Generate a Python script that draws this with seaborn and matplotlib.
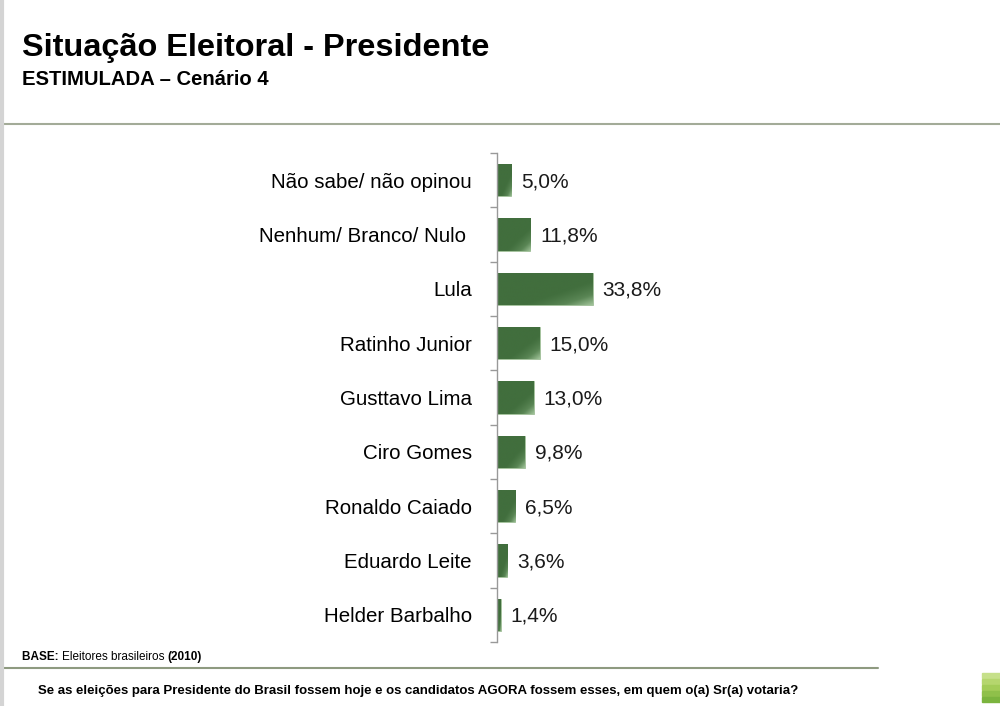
import numpy as np
import matplotlib
matplotlib.use("Agg")
import matplotlib.pyplot as plt
import matplotlib.colors as mcolors
import seaborn as sns
import pandas as pd

candidatos = ["Não sabe/ não opinou", "Nenhum/ Branco/ Nulo ", "Lula", "Ratinho Junior",
              "Gusttavo Lima", "Ciro Gomes", "Ronaldo Caiado", "Eduardo Leite",
              "Helder Barbalho"]
votos = [5.0, 11.8, 33.8, 15.0, 13.0, 9.8, 6.5, 3.6, 1.4]
rotulos = ["5,0%", "11,8%", "33,8%", "15,0%", "13,0%", "9,8%", "6,5%", "3,6%", "1,4%"]

titulo = "Situação Eleitoral - Presidente"
subtitulo = "ESTIMULADA – Cenário 4"
base = [("BASE: ", "bold"), ("Eleitores brasileiros ", "normal"), ("(2010)", "bold")]
pergunta = ("Se as eleições para Presidente do Brasil fossem hoje e os candidatos "
            "AGORA fossem esses, em quem o(a) Sr(a) votaria?")

sns.set_style("white")
plt.rcParams['font.family'] = ['Liberation Sans', 'DejaVu Sans']

df = pd.DataFrame({"candidato": candidatos, "votos": votos})

fig = plt.figure(figsize=(10, 7.06), dpi=100)
ax = fig.add_axes([0.497, 0.0907, 0.38, 0.6926])

verde = "#416e3d"
sns.barplot(data=df, y="candidato", x="votos", color=verde, width=0.6,
            saturation=1, edgecolor="#a8c6a0", linewidth=0.6, ax=ax)

ax.set_xlim(0, 134)
ax.set_ylim(len(candidatos) - 0.5, -0.5)

# brilho claro no canto inferior direito de cada barra
cmap = mcolors.LinearSegmentedColormap.from_list("g", ["#416e3d", "#5a8655", "#9fc298"])
u, v = np.meshgrid(np.linspace(0, 1, 100), np.linspace(0, 1, 40))
grad = np.clip((u + v - 1.25) / 0.75, 0, 1) ** 1.3
for p in ax.patches:
    x0, y0 = p.get_x(), p.get_y()
    w, h = p.get_width(), p.get_height()
    im = ax.imshow(grad, cmap=cmap, vmin=0, vmax=1, extent=[x0, x0 + w, y0, y0 + h],
                   aspect="auto", origin="lower", zorder=p.get_zorder() + 0.1,
                   interpolation="bilinear")
    im.set_clip_path(p)

ax.set_xlabel("")
ax.set_ylabel("")
ax.set_xticks([])
ax.set_yticks(np.arange(len(candidatos)))
ax.set_yticklabels(candidatos, fontsize=14.8, color="black")
ax.tick_params(axis="y", length=0, pad=18)
ax.set_yticks(np.arange(-0.5, len(candidatos)), minor=True)
ax.tick_params(axis="y", which="minor", left=True, length=5, color="#999999", width=1)

for s in ["top", "right", "bottom"]:
    ax.spines[s].set_visible(False)
ax.spines["left"].set_color("#999999")
ax.spines["left"].set_linewidth(1)

for i, (v_, r) in enumerate(zip(votos, rotulos)):
    ax.annotate(r, (v_, i), xytext=(7, -1), textcoords="offset points",
                va="center", ha="left", fontsize=15, color="#1a1a1a")

fig.text(0.022, 0.932, titulo, fontsize=23.4, fontweight="bold", va="center",
         color="black")
fig.text(0.022, 0.887, subtitulo, fontsize=14.6, fontweight="bold", va="center",
         color="black")

fig.add_artist(plt.Line2D([0, 1], [1 - 124 / 706] * 2, color="#a3ab98", lw=1.5))
fig.add_artist(plt.Line2D([0, 0.878], [1 - 668 / 706] * 2, color="#8e9a80", lw=1.5))
fig.add_artist(plt.Line2D([0.002, 0.002], [0, 1], color="#d4d4d4", lw=3))

# linha da base com partes em negrito
renderer = fig.canvas.get_renderer()
xpos = 0.022
for txt, peso in base:
    t = fig.text(xpos, 1 - 657 / 706, txt, fontsize=8.5, fontweight=peso,
                 va="center", color="black")
    bb = t.get_window_extent(renderer=renderer)
    xpos = bb.x1 / fig.bbox.width

fig.text(0.038, 1 - 691 / 706, pergunta, fontsize=9.5, fontweight="bold",
         va="center", color="black")

# marca verde no canto
for k, c in enumerate(["#c6e08a", "#b5d66e", "#a3cc58", "#8fc04a", "#7bb43e"]):
    fig.add_artist(plt.Rectangle((0.982, 1 - (678 + k * 6) / 706), 0.018, 5 / 706,
                                 color=c, transform=fig.transFigure))

fig.savefig("out.png", dpi=100)
